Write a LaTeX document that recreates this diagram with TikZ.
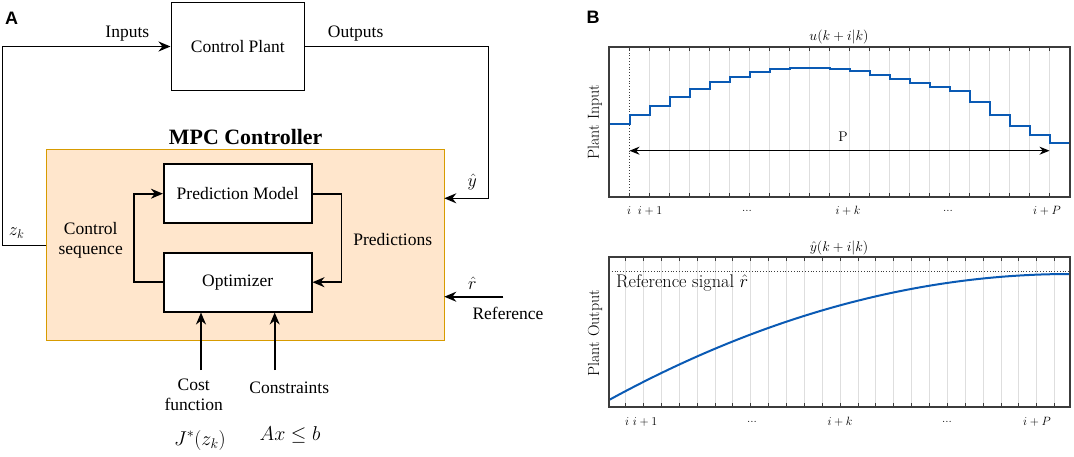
\RequirePackage{fix-cm}
\documentclass[tikz,border=0pt]{standalone}
\usepackage{fontspec}
\usepackage{amsmath}
\usetikzlibrary{arrows.meta}
\newfontfamily\plainserif{Liberation Serif}
\newfontfamily\panelsans{Liberation Sans}
\definecolor{mpcfill}{RGB}{255,230,204}
\definecolor{mpcline}{RGB}{215,155,0}
\definecolor{curveblue}{RGB}{10,90,180}
\definecolor{gridgray}{RGB}{222,222,222}
\definecolor{framegray}{RGB}{60,60,60}
\tikzset{>={Stealth[length=12pt,width=10pt]}}
\tikzset{
  block/.style={draw, line width=1.6pt, fill=white, inner sep=0pt,
    minimum width=148pt, minimum height=59pt,
    font=\plainserif\fontsize{17.5}{20}\selectfont},
  lbl/.style={font=\plainserif\fontsize{17.5}{20}\selectfont, align=center, inner sep=0pt},
  mlbl/.style={font=\fontsize{18}{20}\selectfont, inner sep=0pt},
  flow/.style={->, line width=1.6pt},
  axlbl/.style={font=\fontsize{14}{16}\selectfont, inner sep=0pt},
  ticklbl/.style={font=\fontsize{12}{14}\selectfont, inner sep=0pt},
  frame/.style={draw=framegray, line width=1.2pt},
  tick/.style={framegray, line width=1pt},
  gridline/.style={gridgray, line width=1pt}
}

\begin{document}
\begin{tikzpicture}[x=1pt, y=-1pt]
    \useasboundingbox (0,0) rectangle (1074,456);
    % panel A
    \node[font=\panelsans\bfseries\fontsize{18}{20}\selectfont] (labelA) at (11.7,18.3) {A};
    \node[block, minimum width=133pt, minimum height=88pt] (plant) at (237.8,46.5) {Control Plant};
    \node[draw=mpcline, fill=mpcfill, line width=1.2pt, minimum width=398pt, minimum height=191pt] (mpc) at (245.3,245.3) {};
    \node[font=\plainserif\bfseries\fontsize{21.9}{25}\selectfont, inner sep=0pt] (mpctitle) at (245.7,136.7) {MPC Controller};
    \node[block] (pred) at (237.7,193.7) {Prediction Model};
    \node[block] (opt) at (237.7,282.2) {Optimizer};
    % outer loop
    \coordinate (zk) at (46.3,245.3);
    \coordinate (leftup) at (2.3,46.5);
    \coordinate (rightdn) at (488.3,198.3);
    \coordinate (yin) at (444.3,198.3);
    \draw[flow] (zk) -| (leftup) -- (plant.west);
    \draw[flow] (plant.east) -| (rightdn) -- (yin);
    \node[lbl] (inputs) at (127.3,34) {Inputs};
    \node[lbl] (outputs) at (355.7,34) {Outputs};
    \node[mlbl] (yhat) at (472.3,181.7) {$\hat{y}$};
    \node[mlbl] (zklbl) at (16.7,233.3) {$z_k$};
    % inner loop
    \draw[flow] (opt.west) -- ++(-29,0) |- (pred.west);
    \draw[flow] (pred.east) -- ++(29,0) |- (opt.east);
    \node[lbl] (ctrlseq) at (90.7,240) {Control\\sequence};
    \node[lbl] (predictions) at (392.7,240) {Predictions};
    % reference
    \coordinate (rsrc) at (503.3,296.7);
    \coordinate (rin) at (444.3,296.7);
    \draw[flow] (rsrc) -- (rin);
    \node[mlbl] (rhat) at (472.3,283.3) {$\hat{r}$};
    \node[lbl] (reference) at (508,313.3) {Reference};
    % cost and constraints
    \coordinate (costsrc) at (201,370);
    \coordinate (conssrc) at (274.7,370);
    \draw[flow] (costsrc) -- (costsrc |- opt.south);
    \draw[flow] (conssrc) -- (conssrc |- opt.south);
    \node[lbl] (cost) at (193.7,395) {Cost\\function};
    \node[lbl] (constraints) at (289.3,387.3) {Constraints};
    \node[mlbl, font=\fontsize{20}{22}\selectfont] (costfn) at (200,440) {$J^{*}(z_k)$};
    \node[mlbl, font=\fontsize{20}{22}\selectfont] (consfn) at (290,435) {$Ax \leq b$};

    % panel B
    \node[font=\panelsans\bfseries\fontsize{18}{20}\selectfont] (labelB) at (593,17) {B};
    % plant input
    \foreach \j in {1,...,21}
    \draw[gridline] ({629.5+20*\j},47) -- ({629.5+20*\j},197);
    \draw[framegray, dotted, line width=0.8pt] (629.5,47) -- (629.5,197);
    \foreach \j in {0,...,21} {
    \draw[tick] ({629.5+20*\j},47) -- ++(0,4);
    \draw[tick] ({629.5+20*\j},197) -- ++(0,-4);
    }
    \draw[curveblue, line width=2pt] (609,135) -- (609,124.3)
      foreach \lv [count=\j] in {115,106,97.3,89.3,82,76.7,72,69,67.7,67.7,69.3,71.3,75,79,83.3,87.3,90.7,101.7,115,126,135,142.7}
      { -| ({609.5+20*\j},\lv) } -| (1070,145.7);
    \draw[frame] (609,47) rectangle (1070,197);
    \coordinate (pL) at (629.5,150.7);
    \coordinate (pR) at (1049.5,150.7);
    \draw[{Stealth[length=10pt,width=8pt]}-{Stealth[length=10pt,width=8pt]}, line width=1pt] (pL) -- (pR);
    \node[axlbl] (plbl) at (843,137) {P};
    \node[axlbl] (utitle) at (839,37) {$u(k+i|k)$};
    \node[axlbl, font=\fontsize{16}{18}\selectfont, rotate=90] (uylbl) at (595,122) {Plant Input};
    \node[ticklbl] at (629,211) {$i$};
    \node[ticklbl] at (650,211) {$i+1$};
    \node[ticklbl] at (747,211) {...};
    \node[ticklbl] at (848,211) {$i+k$};
    \node[ticklbl] at (948,211) {...};
    \node[ticklbl] at (1047,211) {$i+P$};
    % plant output
    \foreach \j in {0,...,24} {
    \draw[gridline] ({625.7+17.875*\j},257) -- ({625.7+17.875*\j},407);
    \draw[tick] ({625.7+17.875*\j},257) -- ++(0,4);
    \draw[tick] ({625.7+17.875*\j},407) -- ++(0,-4);
    }
    \draw[framegray, dotted, line width=0.8pt] (609,271) -- (1070,271);
    \node[font=\fontsize{18.3}{20}\selectfont, inner sep=0pt, anchor=west] (reflbl) at (616,283) {Reference signal $\hat{r}$};
    \draw[curveblue, line width=2pt] (609,400) .. controls (762.7,316) and (916.3,274) .. (1070,274);
    \draw[frame] (609,257) rectangle (1070,407);
    \node[axlbl] (ytitle) at (839,248) {$\hat{y}(k+i|k)$};
    \node[axlbl, font=\fontsize{16}{18}\selectfont, rotate=90] (yylbl) at (595,333) {Plant Output};
    \node[ticklbl] at (627,422) {$i$};
    \node[ticklbl] at (645,422) {$i+1$};
    \node[ticklbl] at (752,422) {...};
    \node[ticklbl] at (840,422) {$i+k$};
    \node[ticklbl] at (947,422) {...};
    \node[ticklbl] at (1037,422) {$i+P$};
\end{tikzpicture}
\end{document}
